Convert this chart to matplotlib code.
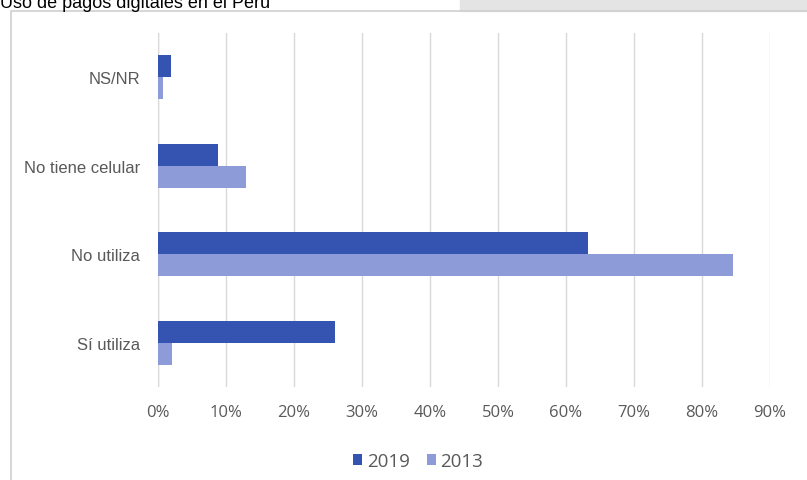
import numpy as np
import matplotlib.pyplot as plt
from matplotlib.patches import Rectangle

categories = ["Sí utiliza", "No utiliza", "No tiene celular", "NS/NR"]
vals_2019 = [26.0, 63.3, 8.8, 1.9]
vals_2013 = [2.0, 84.6, 13.0, 0.7]
series_names = ["2019", "2013"]
xticks = [0, 10, 20, 30, 40, 50, 60, 70, 80, 90]

c2019 = "#3553b1"
c2013 = "#8d9bd8"
label_col = "#595959"

plt.rcParams['font.family'] = ['Liberation Sans', 'DejaVu Sans']

fig = plt.figure(figsize=(8.07, 4.81), dpi=100)
W, H = 807, 481

# outer frame and blurred strip at top
fig.patches.append(Rectangle((460 / W, (H - 12) / H), (W - 460) / W, 12 / H,
                             transform=fig.transFigure, color="#e4e4e4", zorder=0))
fig.patches.append(Rectangle((11 / W, -0.01), 1.0, (H - 12) / H + 0.01,
                             transform=fig.transFigure, fill=False,
                             edgecolor="#cfcfcf", lw=1.2, zorder=1))

fig.text(0, (H - 8) / H, "Uso de pagos digitales en el Perú", fontsize=13,
         color="black", va="baseline", ha="left")

ax = fig.add_axes([158 / W, 93 / H, 612 / W, 354 / H])
y = np.arange(len(categories))
h = 0.25
ax.barh(y + h / 2, vals_2019, height=h, color=c2019, label=series_names[0], zorder=3)
ax.barh(y - h / 2, vals_2013, height=h, color=c2013, label=series_names[1], zorder=3)

ax.set_xlim(0, 90)
ax.set_ylim(-0.5, 3.5)
ax.set_xticks(xticks)
ax.set_xticklabels([f"{t}%" for t in xticks], color=label_col, fontsize=12,
                   family=['Open Sans', 'DejaVu Sans'])
ax.set_yticks(y)
ax.set_yticklabels(categories, color=label_col, fontsize=12,
                   family=['Liberation Sans', 'DejaVu Sans'])
ax.tick_params(axis="x", length=0, pad=12)
ax.tick_params(axis="y", length=0, pad=13)
ax.grid(axis="x", color="#d9d9d9", lw=1, zorder=0)
for s in ax.spines.values():
    s.set_visible(False)
ax.axvline(0, color="#d9d9d9", lw=1, zorder=2)

leg = fig.legend(loc="center", bbox_to_anchor=(418 / W, (H - 462) / H), ncol=2,
                 frameon=False, handlelength=0.5, handleheight=0.5,
                 handletextpad=0.25, columnspacing=0.9,
                 prop={'family': ['Open Sans', 'DejaVu Sans'], 'size': 13.5})
for t in leg.get_texts():
    t.set_color(label_col)

fig.savefig("out.png", dpi=100)
